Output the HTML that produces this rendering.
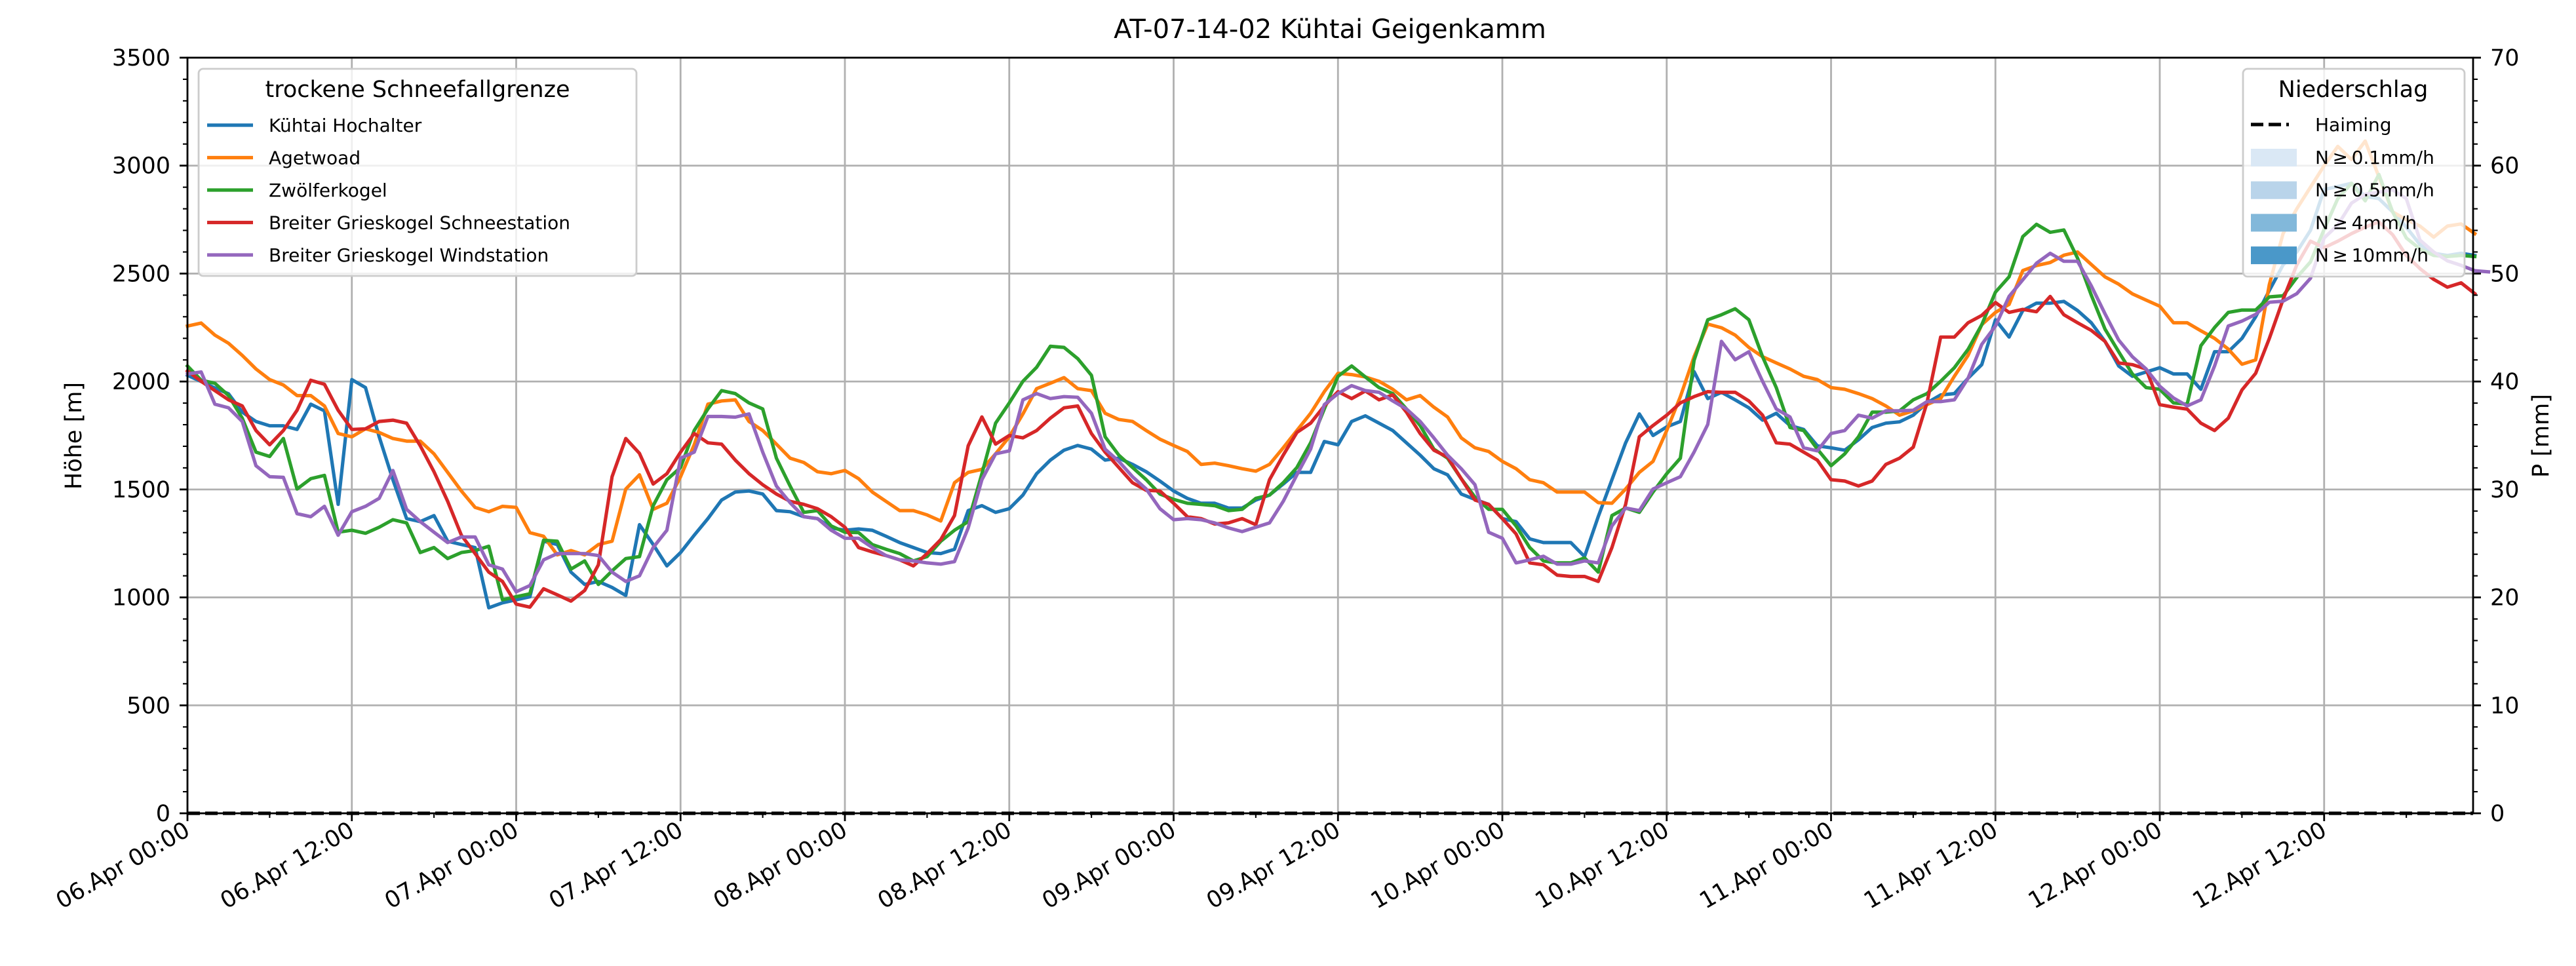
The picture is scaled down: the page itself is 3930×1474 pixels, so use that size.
<!DOCTYPE html>
<html><head><meta charset="utf-8">
<style>
html,body{margin:0;padding:0;background:#fff;}
svg{display:block;font-family:"DejaVu Sans","Liberation Sans",sans-serif;}
</style></head>
<body>
<svg id="chart" xmlns="http://www.w3.org/2000/svg" width="3930" height="1474" viewBox="0 0 3930 1474">
<rect x="0" y="0" width="3930" height="1474" fill="#fff"/>
<text x="2029" y="58" font-size="40" text-anchor="middle">AT-07-14-02 Kühtai Geigenkamm</text>
<g id="grid"></g>
<g id="series"></g>
<g id="axes"></g>
<g id="legends"></g>
</svg>
<script>
const seriesNames = ["Kühtai Hochalter","Agetwoad","Zwölferkogel","Breiter Grieskogel Schneestation","Breiter Grieskogel Windstation"];
const colors = ["#1f77b4","#ff7f0e","#2ca02c","#d62728","#9467bd"];
const xTickLabels = ["06.Apr 00:00","06.Apr 12:00","07.Apr 00:00","07.Apr 12:00","08.Apr 00:00","08.Apr 12:00","09.Apr 00:00","09.Apr 12:00","10.Apr 00:00","10.Apr 12:00","11.Apr 00:00","11.Apr 12:00","12.Apr 00:00","12.Apr 12:00"];
const yTicks = [0,500,1000,1500,2000,2500,3000,3500];
const pTicks = [0,10,20,30,40,50,60,70];
const haiming = [0,0];
const kuehtai = [2029,2000,1970,1943,1858,1815,1795,1795,1778,1895,1864,1431,2009,1972,1744,1545,1365,1351,1379,1260,1245,1231,952,975,989,1003,1260,1245,1117,1060,1074,1046,1009,1337,1245,1146,1208,1288,1365,1451,1488,1493,1479,1402,1397,1374,1365,1322,1311,
1317,1311,1283,1254,1231,1208,1203,1223,1402,1425,1394,1411,1474,1573,1636,1682,1704,1687,1636,1645,1616,1582,1539,1493,1459,1436,1436,1414,1414,1451,1474,1525,1579,1579,1722,1707,1815,1841,1807,1773,1716,1659,1596,1568,1479,1454,1431,1365,1351,1271,1254,1254,1254,1189,1374,1545,1716,1850,1750,1790,1815,2046,1921,
1950,1915,1878,1821,1853,1796,1778,1702,1693,1682,1730,1787,1807,1813,1844,1901,1938,1944,2015,2078,2286,2206,2329,2363,2363,2371,2329,2272,2186,2072,2024,2044,2064,2035,2035,1964,2138,2138,2200,2300,2422,2540,2600,2700,2890,2903,2918,2857,2847,2786,2715,2634,2594,2584,2594,2584];
const agetwoad = [2257,2271,2215,2177,2121,2058,2009,1984,1935,1935,1887,1759,1744,1781,1764,1736,1724,1724,1665,1579,1493,1417,1397,1422,1417,1300,1283,1197,1217,1197,1245,1260,1502,1568,1408,1436,1559,1707,1895,1910,1915,1815,1773,1710,1645,1625,1582,1573,1588,
1550,1488,1445,1402,1402,1382,1354,1531,1579,1593,1665,1744,1850,1967,1992,2018,1967,1958,1853,1824,1815,1773,1733,1704,1676,1616,1622,1610,1596,1585,1616,1693,1773,1853,1953,2038,2032,2021,2001,1964,1915,1935,1881,1836,1739,1693,1676,1630,1596,1545,1531,1488,1488,1488,1439,1436,1502,1579,1630,1773,1930,2115,2266,
2249,2215,2158,2115,2086,2058,2024,2009,1972,1964,1944,1921,1887,1844,1864,1893,1921,2024,2121,2263,2320,2357,2514,2537,2551,2585,2600,2542,2485,2451,2406,2377,2349,2272,2272,2235,2200,2150,2080,2100,2450,2685,2800,2900,3000,3089,3028,3114,2948,2786,2750,2720,2669,2720,2730,2685];
const zwoelfer = [2072,2006,1992,1935,1830,1673,1653,1736,1502,1550,1565,1302,1311,1297,1325,1360,1345,1208,1231,1180,1208,1217,1237,989,1003,1017,1265,1260,1131,1169,1060,1123,1180,1189,1425,1545,1602,1773,1873,1958,1944,1901,1873,1645,1516,1394,1402,1331,1302,
1300,1245,1223,1203,1169,1189,1260,1311,1351,1573,1807,1901,2001,2066,2163,2158,2106,2029,1744,1659,1602,1545,1479,1454,1436,1431,1425,1402,1408,1459,1474,1531,1602,1716,1873,2024,2072,2021,1972,1944,1873,1796,1687,1645,1550,1465,1408,1408,1331,1231,1169,1160,1160,1183,1117,1379,1414,1394,1488,1573,1645,2098,2286,
2309,2337,2286,2115,1972,1787,1773,1687,1610,1665,1744,1858,1858,1864,1915,1944,2001,2064,2149,2263,2414,2485,2671,2728,2691,2702,2571,2400,2243,2138,2035,1972,1964,1901,1895,2166,2250,2320,2331,2331,2392,2397,2482,2554,2705,2847,2918,2837,2959,2786,2665,2614,2584,2579,2584,2579];
const schneestation = [2049,2001,1958,1915,1887,1773,1707,1773,1867,2006,1987,1867,1778,1781,1815,1821,1807,1702,1582,1445,1288,1203,1117,1074,969,955,1040,1012,983,1032,1151,1559,1736,1667,1525,1573,1673,1759,1716,1710,1636,1573,1522,1479,1445,1431,1411,1374,1325,
1231,1211,1194,1174,1146,1203,1268,1379,1702,1836,1710,1750,1739,1773,1830,1878,1887,1759,1673,1602,1531,1496,1493,1436,1374,1365,1340,1345,1365,1337,1545,1659,1764,1807,1887,1953,1921,1956,1915,1938,1858,1759,1682,1650,1550,1451,1431,1365,1294,1160,1151,1103,1097,1097,1074,1231,1431,1744,1796,1844,1901,1930,1953,
1950,1950,1910,1844,1716,1710,1673,1636,1545,1539,1516,1539,1616,1645,1696,1901,2206,2206,2272,2306,2366,2320,2334,2323,2394,2309,2272,2237,2186,2086,2078,2058,1893,1881,1872,1807,1773,1830,1961,2038,2200,2380,2540,2650,2620,2650,2685,2715,2740,2680,2584,2523,2473,2437,2457,2407];
const windstation = [2035,2044,1895,1878,1815,1610,1559,1556,1388,1374,1422,1288,1397,1422,1459,1588,1408,1351,1302,1254,1280,1280,1151,1131,1026,1055,1174,1203,1203,1203,1194,1117,1074,1100,1231,1311,1645,1673,1838,1838,1835,1850,1673,1516,1439,1374,1365,1311,1274,
1274,1231,1194,1174,1169,1160,1154,1166,1322,1545,1665,1679,1915,1944,1921,1930,1927,1853,1687,1630,1559,1502,1411,1360,1365,1360,1345,1322,1305,1325,1345,1445,1568,1687,1893,1944,1981,1958,1950,1910,1873,1815,1739,1659,1596,1522,1302,1274,1160,1174,1191,1154,1154,1169,1160,1331,1414,1402,1502,1531,1559,1673,1801,2186,
2101,2138,2001,1873,1836,1693,1679,1759,1773,1844,1830,1864,1864,1867,1907,1907,1915,2015,2172,2257,2394,2471,2548,2594,2557,2557,2443,2314,2192,2115,2058,1978,1924,1887,1915,2072,2257,2280,2311,2367,2372,2407,2478,2665,2725,2826,2867,2877,2888,2847,2655,2600,2559,2538,2513,2508];
const allSeries = [kuehtai, agetwoad, zwoelfer, schneestation, windstation];
const seriesKeys = ["kuehtai-hochalter","agetwoad","zwoelferkogel","schneestation","windstation"];

const NS = "http://www.w3.org/2000/svg";
const L = 286, R = 3773, T = 88, B = 1241;
const pxPerHour = 250.75 / 12;
const xHour = h => L + h * pxPerHour;
const yH = v => B - (v / 3500) * (B - T);
const yP = p => B - (p / 70) * (B - T);
function mk(tag, attrs, parent) {
  const e = document.createElementNS(NS, tag);
  for (const k in attrs) e.setAttribute(k, attrs[k]);
  parent.appendChild(e);
  return e;
}
const grid = document.getElementById('grid');
const axes = document.getElementById('axes');
const series = document.getElementById('series');
const legends = document.getElementById('legends');

// grid lines
xTickLabels.forEach((lab, i) => {
  const x = xHour(i * 12);
  const g = mk('line', {x1: x, x2: x, y1: T, y2: B, stroke: '#b0b0b0', 'stroke-width': 2.8}, grid);
  
  
});
yTicks.forEach(v => {
  const y = yH(v);
  const g = mk('line', {x1: L, x2: R, y1: y, y2: y, stroke: '#b0b0b0', 'stroke-width': 2.8}, grid);
  
  
});

// series lines
allSeries.forEach((arr, si) => {
  const pts = arr.map((v, h) => xHour(h).toFixed(1) + ',' + yH(v).toFixed(1)).join(' ');
  const pl = mk('polyline', {points: pts, fill: 'none', stroke: colors[si], 'stroke-width': 5.2, 'stroke-linejoin': 'round', 'stroke-linecap': 'square'}, series);
  
  
});
// Haiming precipitation (dashed)
const hm = mk('line', {x1: xHour(0), x2: R, y1: yP(haiming[0]), y2: yP(haiming[1]), stroke: '#000', 'stroke-width': 5.2, 'stroke-dasharray': '19 8'}, series);



// spines
const frame = mk('rect', {x: L, y: T, width: R - L, height: B - T, fill: 'none', stroke: '#000', 'stroke-width': 2.8}, axes);



// y ticks left
for (let v = 0; v <= 3500; v += 100) {
  const y = yH(v);
  const major = v % 500 === 0;
  const t = mk('line', {x1: L, x2: L - (major ? 12 : 7), y1: y, y2: y, stroke: '#000', 'stroke-width': major ? 2.8 : 2.1}, axes);
  
  
}
yTicks.forEach(v => {
  const t = mk('text', {x: L - 26, y: yH(v) + 12, 'font-size': 35, 'text-anchor': 'end'}, axes);
  t.textContent = String(v);
  
  
});
// right ticks
for (let p = 0; p <= 70; p += 2) {
  const y = yP(p);
  const major = p % 10 === 0;
  const t = mk('line', {x1: R, x2: R + (major ? 12 : 7), y1: y, y2: y, stroke: '#000', 'stroke-width': major ? 2.8 : 2.1}, axes);
  
  
}
pTicks.forEach(p => {
  const t = mk('text', {x: R + 26, y: yP(p) + 12, 'font-size': 35, 'text-anchor': 'start'}, axes);
  t.textContent = String(p);
  
  
});
// x ticks
for (let h = 0; h * pxPerHour + L <= R + 1; h += 6) {
  const x = xHour(h);
  const major = h % 12 === 0;
  const t = mk('line', {x1: x, x2: x, y1: B, y2: B + (major ? 12 : 7), stroke: '#000', 'stroke-width': major ? 2.8 : 2.1}, axes);
  
  
}
xTickLabels.forEach((lab, i) => {
  const x = xHour(i * 12);
  const t = mk('text', {x: x, y: B + 34, 'font-size': 35, 'text-anchor': 'end', transform: `rotate(-30 ${x} ${B + 22})`}, axes);
  t.textContent = lab;
  
  
});
// axis titles
const yt = mk('text', {x: 124, y: 665, 'font-size': 35, 'text-anchor': 'middle', transform: 'rotate(-90 124 665)'}, axes);
yt.textContent = 'Höhe [m]';


const pt = mk('text', {x: 3888, y: 665, 'font-size': 35, 'text-anchor': 'middle', transform: 'rotate(-90 3888 665)'}, axes);
pt.textContent = 'P [mm]';



// left legend
const lg = mk('g', {}, legends);


mk('rect', {x: 303, y: 105, width: 668, height: 316, rx: 7, fill: 'rgba(255,255,255,0.8)', stroke: '#cccccc', 'stroke-width': 2.8}, lg);
const lt = mk('text', {x: 637, y: 148, 'font-size': 35, 'text-anchor': 'middle'}, lg);
lt.textContent = 'trockene Schneefallgrenze';


seriesNames.forEach((n, i) => {
  const y = 191 + i * 49.5;
  const ln = mk('line', {x1: 316, x2: 386, y1: y, y2: y, stroke: colors[i], 'stroke-width': 5.2}, lg);
  
  
  const tx = mk('text', {x: 410, y: y + 10, 'font-size': 28}, lg);
  tx.textContent = n;
  
  
});

// right legend
const rg = mk('g', {}, legends);


mk('rect', {x: 3422, y: 105, width: 338, height: 317, rx: 7, fill: 'rgba(255,255,255,0.8)', stroke: '#cccccc', 'stroke-width': 2.8}, rg);
const rt = mk('text', {x: 3590, y: 148, 'font-size': 35, 'text-anchor': 'middle'}, rg);
rt.textContent = 'Niederschlag';


const hl = mk('line', {x1: 3434, x2: 3492, y1: 190, y2: 190, stroke: '#000', 'stroke-width': 5.2, 'stroke-dasharray': '19 8'}, rg);


const ht = mk('text', {x: 3532, y: 200, 'font-size': 28}, rg);
ht.textContent = 'Haiming';


const patchLabels = ['N\u2009\u2265\u20090.1mm/h','N\u2009\u2265\u20090.5mm/h','N\u2009\u2265\u20094mm/h','N\u2009\u2265\u200910mm/h'];
const patchColors = ['#dae8f5','#b9d4ea','#82b8da','#4a98c9'];
patchLabels.forEach((lab, i) => {
  const y = 240 + i * 49.7;
  const r = mk('rect', {x: 3434, y: y - 13, width: 70, height: 27, fill: patchColors[i]}, rg);
  
  
  const tx = mk('text', {x: 3532, y: y + 10, 'font-size': 28}, rg);
  tx.textContent = lab;
  
  
});
</script>
</body></html>
